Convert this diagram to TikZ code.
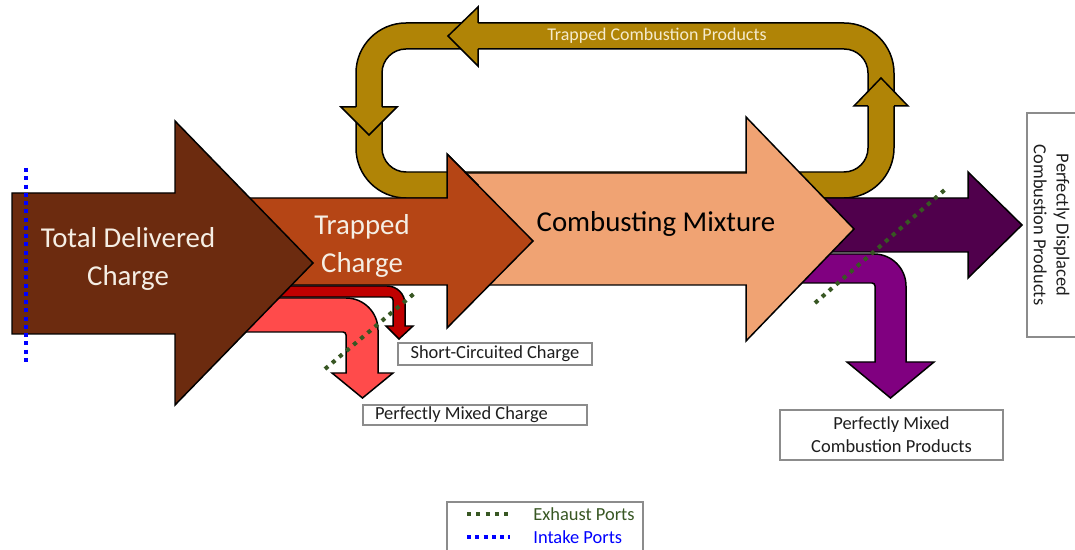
\documentclass[tikz,border=0pt]{standalone}
\usepackage{fontspec}
\setmainfont{Carlito}
\definecolor{cBrown}{RGB}{108,43,15}
\definecolor{cRust}{RGB}{181,69,21}
\definecolor{cPeach}{RGB}{240,163,115}
\definecolor{cGold}{RGB}{176,132,6}
\definecolor{cPlum}{RGB}{80,0,76}
\definecolor{cMag}{RGB}{128,0,128}
\definecolor{cDRed}{RGB}{192,0,0}
\definecolor{cLRed}{RGB}{255,75,75}
\definecolor{cGreen}{RGB}{56,87,35}
\definecolor{cBoxLine}{RGB}{140,140,140}
\definecolor{cCream}{RGB}{245,238,228}
\definecolor{cGoldText}{RGB}{245,235,205}
\definecolor{cLabel}{RGB}{30,30,30}
\begin{document}
\begin{tikzpicture}[x=0.02cm,y=-0.02cm,
  outl/.style={draw=black,line width=0.85pt,line join=miter},
  exhaust/.style={cGreen,line width=2.3pt,dash pattern=on 2.3pt off 3pt},
  intake/.style={blue,line width=2.3pt,dash pattern=on 2.3pt off 2.4pt},
  bigtext/.style={font=\fontsize{16.4}{21.5}\selectfont,align=center,inner sep=0pt},
  labelbox/.style={draw=cBoxLine,line width=0.7pt,fill=white,text=cLabel,
     font=\fontsize{10.5}{13}\selectfont,inner sep=0pt,align=center}]
\useasboundingbox (0,0) rectangle (1075,550);

% ---- gold recirculation loop (behind) ----
\path[fill=cGold,outl,even odd rule]
  [rounded corners=1cm] (356,23) rectangle (894,198)
  [rounded corners=0.48cm] (382,49) rectangle (868,172);
% left-pointing head (top)
\fill[cGold] (478,7) -- (448,36) -- (478,66) -- cycle;
\draw[outl] (478,23) -- (478,7) -- (448,36) -- (478,66) -- (478,49);
% down-pointing head (left)
\fill[cGold] (341,107) -- (369,135) -- (397,107) -- cycle;
\draw[outl] (356,107) -- (341,107) -- (369,135) -- (397,107) -- (382,107);
% up-pointing head (right)
\fill[cGold] (854,106) -- (881,78) -- (908,106) -- cycle;
\draw[outl] (868,106) -- (854,106) -- (881,78) -- (908,106) -- (894,106);

% ---- exit arrows (behind combusting mixture) ----
\draw[outl,fill=cPlum] (800,198) -- (968,198) -- (968,172) -- (1022,225)
  -- (968,278) -- (968,252) -- (800,252) -- cycle;
\draw[outl,fill=cMag] (800,254) -- (874,254)
  arc[start angle=-90,end angle=0,radius=32] -- (906,362) -- (934,362)
  -- (890.5,398) -- (847,362) -- (875,362) -- (875,286)
  arc[start angle=0,end angle=-90,radius=3] -- (800,283) -- cycle;

% ---- combusting mixture ----
\draw[outl,fill=cPeach] (460,173) -- (746,173) -- (746,117) -- (854,229)
  -- (746,341) -- (746,285) -- (460,285) -- cycle;
\node[bigtext,text=black] (comb) at (656,224) {Combusting Mixture};

% right-pointing gold head (bottom-left of loop)
\fill[cGold] (448,155) -- (478,185) -- (448,215) -- cycle;
\draw[outl] (448,172) -- (448,155) -- (478,185) -- (448,215) -- (448,198);

% ---- short-circuit and mixed charge ----
\draw[outl,fill=cLRed] (230,298) -- (346,298)
  arc[start angle=-90,end angle=0,radius=32] -- (378,373) -- (393,373)
  -- (362.5,398) -- (332,373) -- (346,373) -- (346,335)
  arc[start angle=0,end angle=-90,radius=3] -- (230,332) -- cycle;
\draw[outl,fill=cDRed] (230,286) -- (387,286)
  arc[start angle=-90,end angle=0,radius=18] -- (405,326) -- (413,326)
  -- (399,339) -- (386,326) -- (393,326) -- (393,300)
  arc[start angle=0,end angle=-90,radius=3] -- (230,297) -- cycle;

% ---- trapped charge ----
\draw[outl,fill=cRust] (240,198) -- (447,198) -- (447,154) -- (533,241)
  -- (447,328) -- (447,285) -- (240,285) -- cycle;
\node[bigtext,text=cCream] (trapped) at (362,246) {Trapped\\Charge};

% ---- total delivered charge ----
\draw[outl,fill=cBrown] (12,193) -- (175,193) -- (175,121) -- (313,263)
  -- (175,405) -- (175,334) -- (12,334) -- cycle;
\node[bigtext,text=cCream] (total) at (128,259) {Total Delivered\\Charge};

\node[text=cGoldText,font=\fontsize{10.2}{12}\selectfont,inner sep=0pt]
  (tcp) at (657,36) {Trapped Combustion Products};

% ---- port lines ----
\coordinate (ex1a) at (325,369); \coordinate (ex1b) at (416,292);
\coordinate (ex2a) at (815,303); \coordinate (ex2b) at (948,187);
\draw[exhaust] (ex1a) -- (ex1b);
\draw[exhaust] (ex2a) -- (ex2b);
\coordinate (inA) at (26,168); \coordinate (inB) at (26,363);
\draw[intake] (inA) -- (inB);

% ---- labels ----
\node[labelbox,minimum width=3.88cm,minimum height=0.44cm] (scc) at (495,354)
  {Short-Circuited Charge};
\node[labelbox,minimum width=4.48cm,minimum height=0.40cm,text width=4.0cm,
  align=flush left] (pmc) at (475,415) {Perfectly Mixed Charge};
\node[labelbox,minimum width=4.46cm,minimum height=1.0cm] (pmcp) at (891.5,435)
  {Perfectly Mixed\\Combustion Products};
\node[labelbox,rotate=-90,minimum width=4.48cm,minimum height=0.98cm]
  (pdcp) at (1051.5,225) {Perfectly Displaced\\Combustion Products};

% ---- legend ----
\node[draw=cBoxLine,line width=0.7pt,fill=white,minimum width=3.92cm,
  minimum height=1.2cm,inner sep=0pt] (legend) at (545,532) {};
\coordinate (lgA) at (467,514); \coordinate (lgB) at (510,514);
\coordinate (lbA) at (467,537); \coordinate (lbB) at (510,537);
\draw[exhaust] (lgA) -- (lgB);
\draw[intake] (lbA) -- (lbB);
\node[anchor=west,text=cGreen,font=\fontsize{10.5}{13}\selectfont,inner sep=0pt]
  (lgex) at (533,514) {Exhaust Ports};
\node[anchor=west,text=blue,font=\fontsize{10.5}{13}\selectfont,inner sep=0pt]
  (lgin) at (533,537) {Intake Ports};
\end{tikzpicture}
\end{document}
